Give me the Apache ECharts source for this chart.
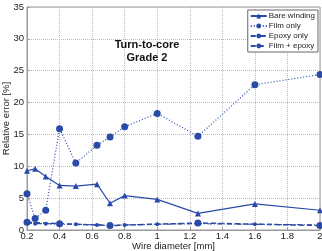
<!DOCTYPE html>
<html><head><meta charset="utf-8">
<script src="https://cdn.jsdelivr.net/npm/echarts@6/dist/echarts.min.js"></script>
<style>html,body{margin:0;padding:0;background:#fff}#c{width:322px;height:251px}</style>
</head><body><div id="c"></div>
<script>
const diameters = [0.2, 0.25, 0.315, 0.4, 0.5, 0.63, 0.71, 0.8, 1.0, 1.25, 1.6, 2.0];
const bareWinding = [9.3, 9.6, 8.4, 7.0, 6.9, 7.2, 4.2, 5.4, 4.8, 2.6, 4.1, 3.1];
const filmOnly = [5.7, 1.8, 3.1, 15.9, 10.5, 13.3, 14.6, 16.2, 18.3, 14.7, 22.8, 24.4];
const epoxyOnly = [1.1, 1.0, 1.0, 0.9, 0.9, 0.8, 0.7, 0.8, 0.9, 1.0, 0.9, 0.8];
const filmEpoxyX = [0.2, 0.4, 0.71, 1.25, 2.0];
const filmEpoxy = [1.2, 1.0, 0.7, 1.1, 0.7];
const seriesNames = ['Bare winding', 'Film only', 'Epoxy only', 'Film + epoxy'];
const titleLines = ['Turn-to-core', 'Grade 2'];

const C = '#2a4aa8';
const pairs = (xs, ys) => xs.map((x, i) => [x, ys[i]]);
const chart = echarts.init(document.getElementById('c'));
chart.setOption({
  animation: false,
  textStyle: { fontFamily: 'Liberation Sans, Arial, sans-serif' },
  title: {
    text: titleLines.join('\n'), left: 142, top: 33, textAlign: 'center',
    textStyle: { fontSize: 11, fontWeight: 'bold', color: '#111', lineHeight: 13 }
  },
  legend: {
    orient: 'vertical', right: 4, top: 10, backgroundColor: '#fff',
    borderColor: '#666', borderWidth: 1, padding: [2, 3, 2, 2], itemGap: 2,
    itemWidth: 16, itemHeight: 6,
    textStyle: { fontSize: 8, color: '#222', padding: [0, 0, 0, -3] },
    data: seriesNames
  },
  grid: { left: 27, right: 2, top: 7, bottom: 21, outerBoundsMode: 'none', containLabel: false,
    show: true, borderColor: '#999', borderWidth: 1 },
  xAxis: {
    type: 'value', min: 0.2, max: 2, interval: 0.2,
    name: 'Wire diameter [mm]', nameLocation: 'middle', nameGap: 11, nameMoveOverlap: false,
    nameTextStyle: { fontSize: 9.5, color: '#222', verticalAlign: 'top' },
    axisLine: { show: true, lineStyle: { color: '#999' } },
    axisTick: { show: true, inside: true, length: 3, lineStyle: { color: '#999' } },
    axisLabel: { fontSize: 9.5, color: '#222', margin: 1, formatter: v => String(+v.toFixed(1)) },
    splitLine: { show: true, lineStyle: { type: 'dotted', color: '#bbb' } }
  },
  yAxis: {
    type: 'value', min: 0, max: 35, interval: 5,
    name: 'Relative error [%]', nameLocation: 'middle', nameGap: 16, nameMoveOverlap: false,
    nameTextStyle: { fontSize: 9.5, color: '#222' },
    axisLine: { show: true, lineStyle: { color: '#999' } },
    axisTick: { show: true, inside: true, length: 3, lineStyle: { color: '#999' } },
    axisLabel: { fontSize: 9.5, color: '#222', margin: 3 },
    splitLine: { show: true, lineStyle: { type: 'dotted', color: '#bbb' } }
  },
  series: [
    { name: seriesNames[0], type: 'line', data: pairs(diameters, bareWinding),
      symbol: 'triangle', symbolSize: 6, itemStyle: { color: C },
      lineStyle: { color: C, width: 1.2 } },
    { name: seriesNames[1], type: 'line', data: pairs(diameters, filmOnly),
      symbol: 'circle', symbolSize: 7, itemStyle: { color: C },
      lineStyle: { color: C, width: 1.2, type: [1, 2] } },
    { name: seriesNames[2], type: 'line', data: pairs(diameters, epoxyOnly),
      symbol: 'circle', symbolSize: 4, itemStyle: { color: C },
      lineStyle: { color: C, width: 1.2, type: [5, 2, 1, 2] } },
    { name: seriesNames[3], type: 'line', data: pairs(filmEpoxyX, filmEpoxy),
      symbol: 'circle', symbolSize: 7, itemStyle: { color: C },
      lineStyle: { color: C, width: 1.5, type: [5, 3] } }
  ]
});
</script></body></html>
